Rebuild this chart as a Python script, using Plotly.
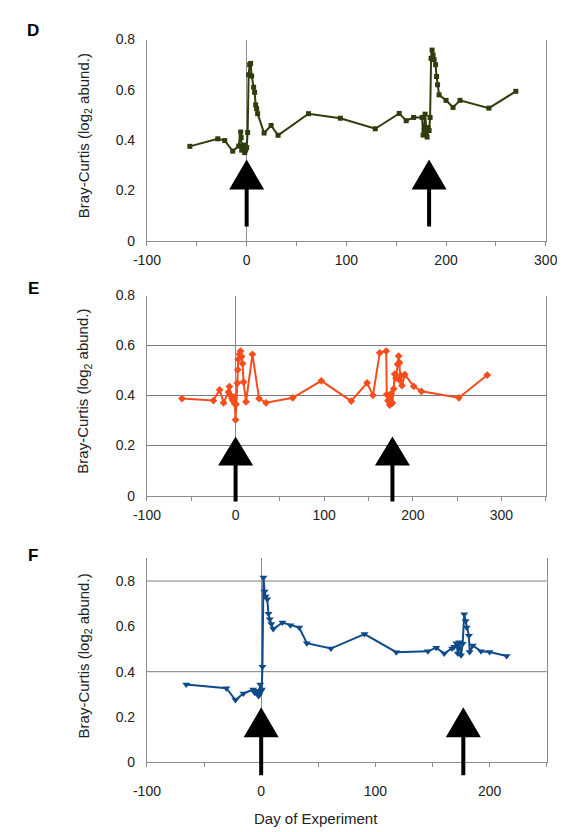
import plotly.graph_objects as go

# ---------------- data ----------------
d_days = [-57, -29, -22, -14, -8, -6, -5.5, -5, -4, -3, -2, -1, 0, 1, 2, 3, 4, 5, 7, 8, 9, 10, 11,
          17.5, 24.5, 31.5, 62, 94, 129, 153, 160, 167.5, 176, 177, 178, 179, 180, 181, 182, 183, 184,
          185, 186, 187, 188, 189.5, 190.5, 191.5, 193, 200, 207, 214, 243, 270]
d_vals = [0.375, 0.405, 0.398, 0.356, 0.376, 0.432, 0.41, 0.36, 0.37, 0.38, 0.35, 0.36, 0.37, 0.43,
          0.66, 0.70, 0.705, 0.655, 0.61, 0.59, 0.54, 0.525, 0.505,
          0.428, 0.458, 0.419, 0.505, 0.487, 0.445, 0.506, 0.477, 0.49, 0.49, 0.42, 0.44, 0.503, 0.43,
          0.412, 0.45, 0.438, 0.49, 0.725, 0.758, 0.738, 0.72, 0.70, 0.653, 0.62, 0.58, 0.558, 0.53,
          0.558, 0.527, 0.594]

e_days = [-60.5, -25, -18, -13.5, -8, -7, -5.5, -4, -3, -2, -1, 0, 0.5, 2, 2.5, 3, 4.3, 5.7, 6.8,
          7.9, 9, 11.8, 19, 26.5, 34.4, 64.5, 96.8, 130.5, 148.4, 155, 162.7, 170, 170.6, 172, 173,
          174, 175, 175.6, 177, 178.5, 179.6, 181, 182.8, 184, 185, 185.7, 186.5, 187.8, 191, 201,
          209.7, 252, 284]
e_vals = [0.388, 0.38, 0.423, 0.371, 0.414, 0.436, 0.40, 0.388, 0.38, 0.395, 0.367, 0.303, 0.365,
          0.45, 0.503, 0.545, 0.565, 0.578, 0.556, 0.528, 0.454, 0.375, 0.565, 0.388, 0.371, 0.391,
          0.459, 0.378, 0.451, 0.401, 0.571, 0.578, 0.404, 0.38, 0.375, 0.362, 0.40, 0.408, 0.37,
          0.427, 0.486, 0.47, 0.525, 0.558, 0.532, 0.46, 0.48, 0.44, 0.484, 0.437, 0.417, 0.391, 0.482]

f_days = [-65.6, -30.5, -22.5, -15.5, -7, -5.6, -4, -3, -2.2, -1.5, -0.8, 0, 0.5, 1.1, 2, 3, 3.9,
          5.3, 6.4, 7.5, 8.9, 10.6, 18.6, 25.6, 33.3, 40, 61, 90.5, 118.3, 146, 153.3, 160.3, 167.2,
          169, 171, 172.2, 173.6, 175, 176.4, 177.8, 179, 180, 181.9, 182.5, 185.3, 192.5, 200, 215]
f_vals = [0.343, 0.327, 0.275, 0.304, 0.321, 0.307, 0.315, 0.30, 0.293, 0.30, 0.343, 0.315, 0.321,
          0.422, 0.816, 0.754, 0.732, 0.72, 0.656, 0.631, 0.61, 0.588, 0.617, 0.605, 0.595, 0.526,
          0.502, 0.566, 0.486, 0.49, 0.506, 0.48, 0.502, 0.51, 0.526, 0.48, 0.53, 0.473, 0.523,
          0.653, 0.624, 0.595, 0.559, 0.487, 0.516, 0.49, 0.487, 0.469]

panel_labels = ["D", "E", "F"]
arrow_days = [[0, 183], [0, 177], [0, 177]]
x_ranges = [[-100, 300], [-100, 350], [-100, 250]]
y_ranges = [[0, 0.8], [0, 0.8], [0, 0.9]]
x_tick_vals = [[-100, 0, 100, 200, 300], [-100, 0, 100, 200, 300], [-100, 0, 100, 200]]
x_tick_text = [["-100", "0", "100", "200", "300"], ["-100", "0", "100", "200", "300"],
               ["-100", "0", "100", "200"]]
f_grid_vals = [0.4, 0.8]
y_title = "Bray-Curtis (log<sub>2</sub> abund.)"
x_title = "Day of Experiment"

# ---------------- styling ----------------
W, H = 565, 832
FONT = "Arial, Liberation Sans, sans-serif"
AX = "#8c8c8c"
GRID = "#7a7a7a"
colors = ["#2f3c0c", "#f64d1c", "#0f4a8a"]
symbols = ["square", "diamond", "triangle-down"]
msizes = [5, 6, 7]
# pixel boxes: (left, top, right, bottom)
boxes = [(131, 24, 549, 229), (131, 285, 549, 489), (131, 553, 550, 761)]
xlabel_standoff = [3, 3, 12]
# arrow geometry in pixels above y=0: (shaft bottom, base, apex)
arrow_geo = [(14, 51, 81), (-6, 30, 59), (-13, 25, 55)]

fig = go.Figure()
layout = dict(width=W, height=H, margin=dict(l=0, r=0, t=0, b=0),
              paper_bgcolor="white", plot_bgcolor="white", showlegend=False,
              font=dict(family=FONT, color="#222"))
shapes, annotations = [], []

datasets = [(d_days, d_vals), (e_days, e_vals), (f_days, f_vals)]
for i, (xs, ys) in enumerate(datasets):
    sfx = "" if i == 0 else str(i + 1)
    xa, ya = "x" + sfx, "y" + sfx
    fig.add_trace(go.Scatter(
        x=xs, y=ys, xaxis=xa, yaxis=ya, mode="lines+markers",
        line=dict(color=colors[i], width=2),
        marker=dict(symbol=symbols[i], size=msizes[i], color=colors[i]),
        cliponaxis=False))
    l, t, r, b = boxes[i]
    layout["xaxis" + sfx] = dict(
        domain=[l / W, r / W], anchor=ya, range=x_ranges[i],
        tickmode="array", tickvals=x_tick_vals[i], ticktext=x_tick_text[i],
        ticks="outside", ticklen=4, tickcolor=AX, tickwidth=1,
        minor=dict(tick0=0, dtick=50, ticks="outside", ticklen=4, tickcolor=AX),
        showline=True, linecolor=AX, linewidth=1, showgrid=False,
        zeroline=True, zerolinecolor=AX, zerolinewidth=1,
        tickfont=dict(family=FONT, size=14, color="#222"),
        ticklabelstandoff=xlabel_standoff[i])
    layout["yaxis" + sfx] = dict(
        domain=[1 - b / H, 1 - t / H], anchor=xa, range=y_ranges[i], tick0=0, dtick=0.2,
        showline=True, linecolor=AX, linewidth=1, mirror=True,
        showgrid=(i == 1), gridcolor=GRID, gridwidth=1, zeroline=False, ticks="",
        tickfont=dict(family=FONT, size=14, color="#222"), ticklabelstandoff=8)
    # y-axis title
    annotations.append(dict(text=y_title, x=65 / W, y=1 - ((t + b) / 2 - 4) / H, xref="paper",
                            yref="paper", textangle=-90, showarrow=False,
                            font=dict(family=FONT, size=15, color="#222"),
                            xanchor="center", yanchor="middle"))
    # panel letter
    annotations.append(dict(text="<b>%s</b>" % panel_labels[i], x=12 / W,
                            y=1 - [15, 278, 550][i] / H, xref="paper", yref="paper",
                            showarrow=False, font=dict(family=FONT, size=17, color="black"),
                            xanchor="center", yanchor="middle"))
    # arrows
    s0, base, apex = arrow_geo[i]
    x0, x1 = x_ranges[i]
    for day in arrow_days[i]:
        path = ("M -2,{s} L 2,{s} L 2,{b} L 17.5,{b} L 0,{a} L -17.5,{b} L -2,{b} Z"
                .format(s=s0, b=base, a=apex))
        shapes.append(dict(type="path", xref=xa + " domain", yref=ya + " domain",
                           xsizemode="pixel", ysizemode="pixel",
                           xanchor=(day - x0) / (x1 - x0), yanchor=0,
                           path=path, fillcolor="black", line=dict(width=0), layer="above"))

# panel F gridlines
for v in f_grid_vals:
    shapes.append(dict(type="line", xref="x3 domain", yref="y3", x0=0, x1=1, y0=v, y1=v,
                       line=dict(color=GRID, width=1), layer="below"))

annotations.append(dict(text=x_title, x=308 / W, y=1 - 818 / H, xref="paper", yref="paper",
                        showarrow=False, font=dict(family=FONT, size=15, color="#222"),
                        xanchor="center", yanchor="middle"))

layout["shapes"] = shapes
layout["annotations"] = annotations
fig.update_layout(**layout)
fig.write_html("out.html")
